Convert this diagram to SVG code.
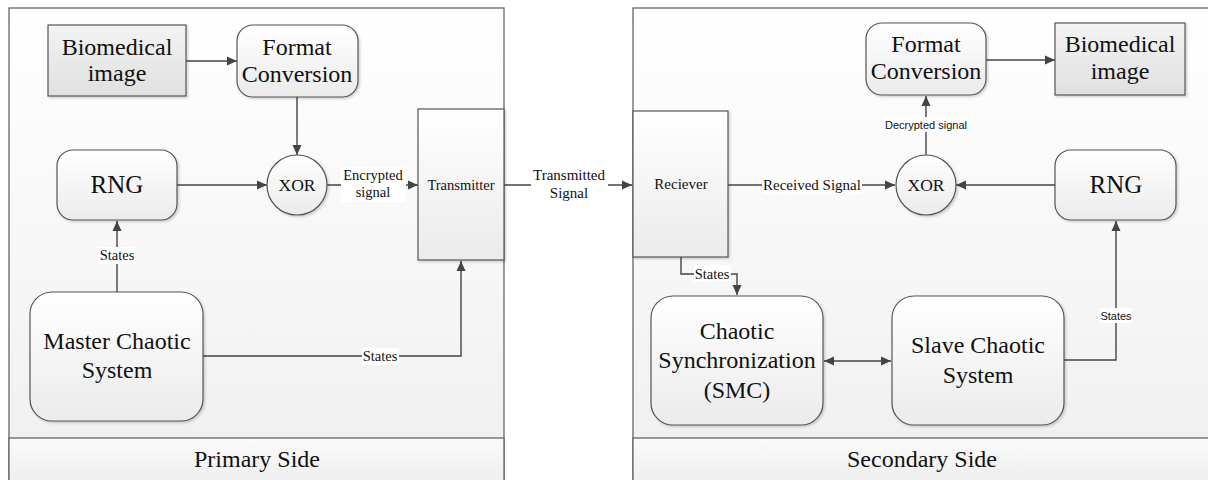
<svg xmlns="http://www.w3.org/2000/svg" width="1208" height="480" viewBox="0 0 1208 480">
<defs>
<linearGradient id="gPanel" x1="0" y1="0" x2="0" y2="1"><stop offset="0" stop-color="#ffffff"/><stop offset="1" stop-color="#efefef"/></linearGradient>
<linearGradient id="gFoot" x1="0" y1="0" x2="0" y2="1"><stop offset="0" stop-color="#fafafa"/><stop offset="1" stop-color="#ededed"/></linearGradient>
<linearGradient id="gNode" x1="0" y1="0" x2="0" y2="1"><stop offset="0" stop-color="#ffffff"/><stop offset="1" stop-color="#ebebeb"/></linearGradient>
<linearGradient id="gImg" x1="0" y1="0" x2="0" y2="1"><stop offset="0" stop-color="#f3f3f3"/><stop offset="1" stop-color="#e0e0e0"/></linearGradient>
<filter id="sh" x="-10%" y="-10%" width="125%" height="125%"><feDropShadow dx="1.5" dy="1.5" stdDeviation="1" flood-color="#000" flood-opacity="0.18"/></filter>
<marker id="ah" viewBox="0 0 10 10" refX="10" refY="5" markerWidth="10" markerHeight="10" markerUnits="userSpaceOnUse" orient="auto-start-reverse"><path d="M0,0.5 L10,5 L0,9.5 Z" fill="#444"/></marker>
</defs>
<style>
.panel{fill:url(#gPanel);stroke:#666;stroke-width:1.3}
.foot{fill:url(#gFoot);stroke:#666;stroke-width:1.3}
.node{fill:url(#gNode);stroke:#555;stroke-width:1.2;filter:url(#sh)}
.img{fill:url(#gImg);stroke:#555;stroke-width:1.2;filter:url(#sh)}
.t{font-family:'Liberation Serif',serif;fill:#111;text-anchor:middle}
.big{font-size:24px}
.sm{font-size:15px}
.st{font-size:14.5px}
.s{font-family:'Liberation Sans',sans-serif;font-size:11px;fill:#111;text-anchor:middle}
.c{fill:none;stroke:#444;stroke-width:1.4}
.lbl{fill:#fff}
</style>
<rect width="1208" height="480" fill="#fff"/>
<g id="primary">
<rect class="panel" x="9" y="8" width="495" height="480"/>
<rect class="foot" x="9" y="438" width="495" height="50"/>
<text class="t big" x="257" y="467">Primary Side</text>
</g>
<g id="secondary">
<rect class="panel" x="633" y="8" width="585" height="480"/>
<rect class="foot" x="633" y="438" width="585" height="50"/>
<text class="t big" x="922" y="467">Secondary Side</text>
</g>
<g id="connectors">
<line class="c" x1="186" y1="61" x2="237" y2="61" marker-end="url(#ah)"/>
<line class="c" x1="297" y1="97" x2="297" y2="155" marker-end="url(#ah)"/>
<line class="c" x1="177" y1="185" x2="267" y2="185" marker-end="url(#ah)"/>
<line class="c" x1="327" y1="185" x2="418" y2="185" marker-end="url(#ah)"/>
<rect class="lbl" x="341" y="167" width="65" height="35"/>
<text class="t st" x="373" y="180">Encrypted</text>
<text class="t st" x="373" y="197">signal</text>
<line class="c" x1="117" y1="292" x2="117" y2="221" marker-end="url(#ah)"/>
<rect class="lbl" x="98" y="247" width="37" height="17"/>
<text class="t st" x="117" y="260">States</text>
<polyline class="c" points="203,356 461,356 461,261" marker-end="url(#ah)"/>
<rect class="lbl" x="362" y="348" width="37" height="17"/>
<text class="t st" x="380" y="361">States</text>
<line class="c" x1="504" y1="185" x2="632" y2="185" marker-end="url(#ah)"/>
<rect class="lbl" x="531" y="166" width="77" height="38" fill="#fff"/>
<text class="t sm" x="569" y="180">Transmitted</text>
<text class="t sm" x="569" y="198">Signal</text>
<line class="c" x1="728" y1="185" x2="895" y2="185" marker-end="url(#ah)"/>
<rect class="lbl" x="762" y="176" width="100" height="18"/>
<text class="t sm" x="812" y="190">Received Signal</text>
<line class="c" x1="926" y1="155" x2="926" y2="96" marker-end="url(#ah)"/>
<rect class="lbl" x="884" y="117" width="84" height="15"/>
<text class="s" x="926" y="129">Decrypted signal</text>
<line class="c" x1="986" y1="60" x2="1055" y2="60" marker-end="url(#ah)"/>
<line class="c" x1="1055" y1="185" x2="956" y2="185" marker-end="url(#ah)"/>
<polyline class="c" points="681,257 681,274 737,274 737,295" marker-end="url(#ah)"/>
<rect class="lbl" x="694" y="265" width="37" height="17"/>
<text class="t st" x="712" y="279">States</text>
<line class="c" x1="824" y1="361" x2="891" y2="361" marker-start="url(#ah)" marker-end="url(#ah)"/>
<polyline class="c" points="1064,360 1116,360 1116,221" marker-end="url(#ah)"/>
<rect class="lbl" x="1100" y="308" width="32" height="15"/>
<text class="s" x="1116" y="320">States</text>
</g>
<g id="bio-left"><rect class="img" x="48" y="25" width="138" height="71"/><text class="t big" x="117" y="55">Biomedical</text><text class="t big" x="117" y="81">image</text></g>
<g id="fc-left"><rect class="node" x="237" y="25" width="121" height="72" rx="16"/><text class="t big" x="297" y="55">Format</text><text class="t big" x="297" y="82">Conversion</text></g>
<g id="xor-left"><circle class="node" cx="297" cy="185" r="30"/><text class="t" font-size="17.5" x="297" y="191">XOR</text></g>
<g id="rng-left"><rect class="node" x="57" y="150" width="120" height="70" rx="16"/><text class="t" font-size="25" x="117" y="193">RNG</text></g>
<g id="transmitter"><rect class="node" x="418" y="109" width="86" height="151"/><text class="t st" x="461" y="190">Transmitter</text></g>
<g id="master"><rect class="node" x="30" y="292" width="173" height="129" rx="22"/><text class="t big" x="117" y="349">Master Chaotic</text><text class="t big" x="117" y="378">System</text></g>
<g id="receiver"><rect class="node" x="633" y="111" width="95" height="146"/><text class="t sm" x="681" y="189">Reciever</text></g>
<g id="xor-right"><circle class="node" cx="926" cy="185" r="30"/><text class="t" font-size="17.5" x="926" y="191">XOR</text></g>
<g id="fc-right"><rect class="node" x="866" y="23" width="120" height="72" rx="16"/><text class="t big" x="926" y="52">Format</text><text class="t big" x="926" y="79">Conversion</text></g>
<g id="bio-right"><rect class="img" x="1055" y="23" width="130" height="72"/><text class="t big" x="1120" y="52">Biomedical</text><text class="t big" x="1120" y="79">image</text></g>
<g id="rng-right"><rect class="node" x="1055" y="150" width="121" height="70" rx="16"/><text class="t" font-size="25" x="1116" y="193">RNG</text></g>
<g id="sync"><rect class="node" x="651" y="296" width="172" height="129" rx="22"/><text class="t big" x="737" y="339">Chaotic</text><text class="t big" x="737" y="368">Synchronization</text><text class="t big" x="737" y="398">(SMC)</text></g>
<g id="slave"><rect class="node" x="892" y="296" width="172" height="129" rx="22"/><text class="t big" x="978" y="353">Slave Chaotic</text><text class="t big" x="978" y="383">System</text></g>
</svg>
